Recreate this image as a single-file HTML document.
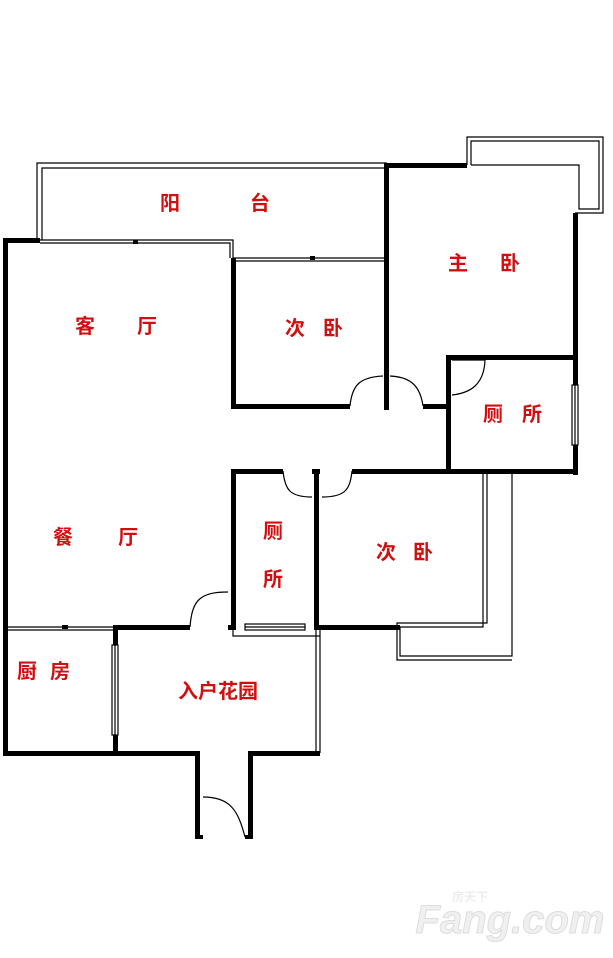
<!DOCTYPE html>
<html><head><meta charset="utf-8"><style>
html,body{margin:0;padding:0;background:#fff;width:613px;height:958px;overflow:hidden}
svg{display:block}
text{font-family:"Liberation Sans","Noto Sans CJK SC",sans-serif;fill:#d01010;font-size:20px;font-weight:bold;text-anchor:middle;dominant-baseline:central}
</style></head><body>
<svg width="613" height="958" viewBox="0 0 613 958" xmlns="http://www.w3.org/2000/svg">
<g fill="none" stroke="#000" stroke-width="1.2">
<path d="M37 240 V163 H387"/><path d="M42 240 V168 H387"/>
<path d="M40 240 H233 V258"/><path d="M40 243 H230 V258"/>
<path d="M233 258 H387"/><path d="M233 261 H387"/>
<path d="M467 165 V137 H603 V213 H575"/><path d="M471 165 V141 H599 V209 H579 V165 H471"/>
<path d="M483 473 V627 H400 V656 H512 V473"/><path d="M487 473 V623 H397 V660 H512"/>
<path d="M5 627 H115"/><path d="M5 630 H115"/>
<path d="M316 630 V753"/><path d="M320 630 V753"/>
<path d="M233 630 V636 H320"/>
<path d="M350 406 C352 385 360 377 383 376"/>
<path d="M390 376 C410 377 420 385 423 406"/>
<path d="M283 471 C285 490 290 497 312 497"/>
<path d="M322 497 C345 497 350 490 352 471"/>
<path d="M190 627 C192 600 200 592 228 592"/>
<path d="M203 797 C230 797 238 810 245 837"/>
<path d="M452 360 H485 C484 385 470 393 452 395"/>
</g>
<g fill="#000">
<rect x="3" y="240" width="5" height="515"/>
<rect x="3" y="238" width="37" height="5"/>
<rect x="133" y="240" width="5" height="4"/>
<rect x="310" y="256" width="5" height="4"/>
<rect x="384" y="163" width="5" height="247"/>
<rect x="387" y="163" width="80" height="5"/>
<rect x="573" y="213" width="5" height="262"/>
<rect x="231" y="258" width="5" height="150"/>
<rect x="231" y="404" width="119" height="5"/>
<rect x="423" y="404" width="27" height="5"/>
<rect x="446" y="355" width="132" height="5"/>
<rect x="446" y="355" width="5" height="118"/>
<rect x="231" y="469" width="52" height="5"/>
<rect x="312" y="469" width="8" height="5"/>
<rect x="352" y="469" width="226" height="5"/>
<rect x="231" y="469" width="5" height="161"/>
<rect x="314" y="469" width="5" height="161"/>
<rect x="314" y="625" width="86" height="5"/>
<rect x="113" y="625" width="77" height="5"/>
<rect x="228" y="625" width="8" height="5"/>
<rect x="62" y="625" width="6" height="4"/>
<rect x="113" y="627" width="5" height="128"/>
<rect x="3" y="751" width="197" height="5"/>
<rect x="248" y="751" width="72" height="5"/>
<rect x="195" y="751" width="5" height="88"/>
<rect x="248" y="751" width="5" height="88"/>
<rect x="195" y="835" width="8" height="4"/>
<rect x="245" y="835" width="8" height="4"/>
</g>
<g fill="#fff" stroke="#000" stroke-width="1.2">
<rect x="572" y="385" width="6" height="60"/>
<line x1="575" y1="385" x2="575" y2="445"/>
<rect x="245" y="624" width="60" height="6"/>
<line x1="245" y1="627" x2="305" y2="627"/>
<rect x="112" y="645" width="6" height="90"/>
<line x1="115" y1="645" x2="115" y2="735"/>
</g>
<text x="170" y="204">阳</text><text x="260" y="204">台</text>
<text x="458" y="264">主</text><text x="510" y="264">卧</text>
<text x="85" y="327">客</text><text x="147" y="327">厅</text>
<text x="295" y="329">次</text><text x="333" y="329">卧</text>
<text x="493" y="415">厕</text><text x="532" y="415">所</text>
<text x="63" y="538">餐</text><text x="128" y="538">厅</text>
<text x="273" y="532">厕</text><text x="273" y="580">所</text>
<text x="386" y="553">次</text><text x="423" y="553">卧</text>
<text x="27" y="672">厨</text><text x="60" y="672">房</text>
<text x="218" y="692">入户花园</text>
<text x="470" y="897" style="fill:#eee;font-size:12px">房天下</text>
<text x="510" y="920" style="fill:#f0f0f0;stroke:#ddd;stroke-width:1;font-size:40px;font-style:italic">Fang.com</text>
</svg>
</body></html>
